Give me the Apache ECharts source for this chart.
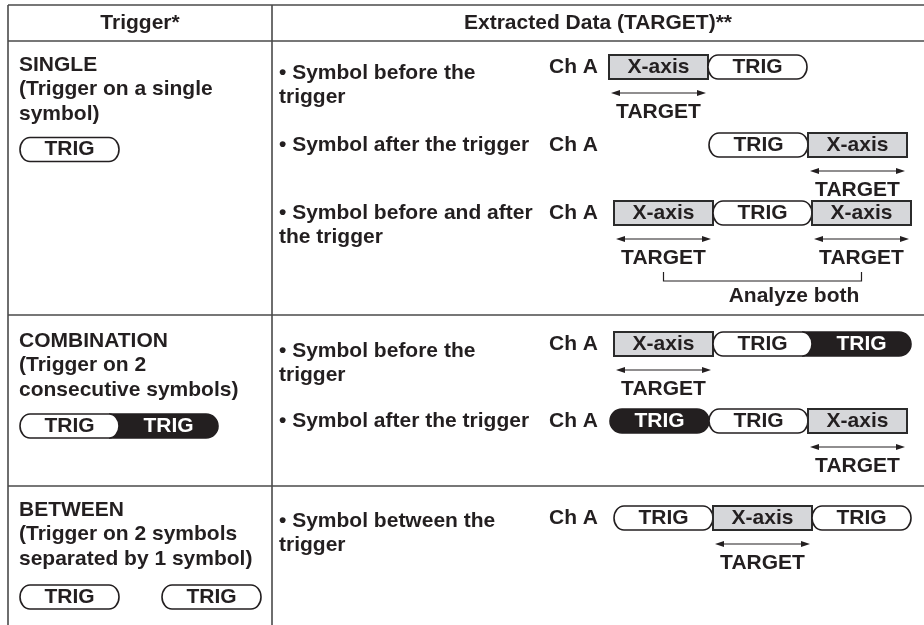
<!DOCTYPE html>
<html><head><meta charset="utf-8">
<script src="https://cdn.jsdelivr.net/npm/echarts@6/dist/echarts.min.js"></script>
<style>html,body{margin:0;padding:0;background:#fff}#c{width:924px;height:625px}</style>
</head><body><div id="c"></div>
<script>
// ---------------- data ----------------
const headers = ['Trigger*', 'Extracted Data (TARGET)**'];
const triggerNames = ['SINGLE', 'COMBINATION', 'BETWEEN'];
const triggerNotes = [
  ['(Trigger on a single', 'symbol)'],
  ['(Trigger on 2', 'consecutive symbols)'],
  ['(Trigger on 2 symbols', 'separated by 1 symbol)']
];
// T = trigger symbol, B = second (filled) trigger symbol, X = extracted symbol, '-' = empty
const triggerPatterns = [['T'], ['T', 'B'], ['T', '-', 'T']];
const caseTexts = [
  ['• Symbol before the', 'trigger'],
  ['• Symbol after the trigger'],
  ['• Symbol before and after', 'the trigger'],
  ['• Symbol before the', 'trigger'],
  ['• Symbol after the trigger'],
  ['• Symbol between the', 'trigger']
];
const caseSequences = [
  ['X', 'T'],
  ['-', 'T', 'X'],
  ['X', 'T', 'X'],
  ['X', 'T', 'B'],
  ['B', 'T', 'X'],
  ['T', 'X', 'T']
];
const caseTargets = [[0], [2], [0, 2], [0], [2], [1]];
const symbolText = { X: 'X-axis', T: 'TRIG', B: 'TRIG' };
const channelName = 'Ch A';
const targetName = 'TARGET';
const combinedNote = 'Analyze both';
const combinedCase = 2;

// ---------------- layout ----------------
const L = {
  W: 924, H: 625,
  left: 8, divider: 272, top: 5, headerBottom: 41, rowLines: [315, 486],
  headerY: 23, headerX: [140, 598],
  trigX: 19, trigTextY: [65, 341, 510], lineH: 24.6,
  trigSymY: [149.5, 426, 597], trigSymX: 20, trigSlotW: 99, gapW: 43,
  caseTextX: 279, caseTextY: [73, 145, 213, 351, 421, 521],
  caseY: [67, 145, 213, 344, 421, 518], caseX: [609, 610, 614, 614, 610, 614], slotW: 99,
  chX: 598, symH: 24, rx: 10,
  arrowDy: 26, targetDy: 45,
  bracketTop: 272, bracketBottom: 281, noteY: 296, noteX: 794
};
const INK = '#231f20';
const LINE = '#4a4a4a';
const BOXFILL = '#d6d7da';
const FONT = 'bold 21px "Liberation Sans", Arial, Helvetica, sans-serif';

// ---------------- build marks ----------------
const marks = [];
// table lines
marks.push({ k: 'line', x1: L.left, y1: L.top, x2: L.W, y2: L.top, w: 1.6, c: LINE });
marks.push({ k: 'line', x1: L.left, y1: L.headerBottom, x2: L.W, y2: L.headerBottom, w: 1.6, c: LINE });
L.rowLines.forEach(y => marks.push({ k: 'line', x1: L.left, y1: y, x2: L.W, y2: y, w: 1.6, c: LINE }));
marks.push({ k: 'line', x1: L.left, y1: L.top, x2: L.left, y2: L.H, w: 1.6, c: LINE });
marks.push({ k: 'line', x1: L.divider, y1: L.top, x2: L.divider, y2: L.H, w: 1.6, c: LINE });
// headers
headers.forEach((h, i) => marks.push({ k: 'text', x: L.headerX[i], y: L.headerY, t: h, align: 'center' }));

function addSequence(seq, x0, y, slotW, gapW) {
  let x = x0;
  const slots = [];
  seq.forEach((s, i) => {
    const w = (s === '-' && gapW) ? gapW : slotW;
    slots.push([x, x + w]);
    if (s === 'X') {
      marks.push({ k: 'rect', a: x, b: x + w, c: y });
    } else if (s === 'T' || s === 'B') {
      const prev = seq[i - 1];
      marks.push({ k: 'trig', a: x, b: x + w, c: y, filled: s === 'B', concave: s === 'B' && prev === 'T' });
    }
    if (s !== '-') marks.push({ k: 'text', x: x + w / 2, y: y, t: symbolText[s], align: 'center', color: s === 'B' ? '#ffffff' : INK });
    x += w;
  });
  return slots;
}

// left column
triggerNames.forEach((name, i) => {
  marks.push({ k: 'text', x: L.trigX, y: L.trigTextY[i], t: name, align: 'left' });
  triggerNotes[i].forEach((t, j) => marks.push({ k: 'text', x: L.trigX, y: L.trigTextY[i] + (j + 1) * L.lineH, t: t, align: 'left' }));
});
triggerPatterns.forEach((p, i) => addSequence(p, L.trigSymX, L.trigSymY[i], L.trigSlotW, L.gapW));

// right column
caseTexts.forEach((lines, i) => {
  lines.forEach((t, j) => marks.push({ k: 'text', x: L.caseTextX, y: L.caseTextY[i] + j * L.lineH, t: t, align: 'left' }));
  marks.push({ k: 'text', x: L.chX, y: L.caseY[i], t: channelName, align: 'right' });
  const slots = addSequence(caseSequences[i], L.caseX[i], L.caseY[i], L.slotW, 0);
  caseTargets[i].forEach(ti => {
    const s = slots[ti];
    marks.push({ k: 'arrow', x1: s[0] + 2, x2: s[1] - 2, y: L.caseY[i] + L.arrowDy });
    marks.push({ k: 'text', x: (s[0] + s[1]) / 2, y: L.caseY[i] + L.targetDy, t: targetName, align: 'center' });
  });
  if (i === combinedCase) {
    const c0 = (slots[caseTargets[i][0]][0] + slots[caseTargets[i][0]][1]) / 2;
    const c1 = (slots[caseTargets[i][1]][0] + slots[caseTargets[i][1]][1]) / 2;
    marks.push({ k: 'poly', pts: [[c0, L.bracketTop], [c0, L.bracketBottom], [c1, L.bracketBottom], [c1, L.bracketTop]] });
    marks.push({ k: 'text', x: L.noteX, y: L.noteY, t: combinedNote, align: 'center' });
  }
});

// draw order: filled shapes first, then lines/outlines, texts last
const rank = m => (m.k === 'trig' && m.filled) ? 0 : (m.k === 'text' ? 3 : (m.k === 'line' ? 1 : 2));
marks.sort((a, b) => rank(a) - rank(b));

// ---------------- chart ----------------
const chart = echarts.init(document.getElementById('c'), null, { renderer: 'canvas' });
const K = 0.5523;
function renderItem(params, api) {
  const m = marks[params.dataIndex];
  const p = (x, y) => api.coord([x, y]);
  if (m.k === 'line') {
    const a = p(m.x1, m.y1), b = p(m.x2, m.y2);
    return { type: 'line', shape: { x1: a[0], y1: a[1], x2: b[0], y2: b[1] }, style: { stroke: m.c, lineWidth: m.w } };
  }
  if (m.k === 'poly') {
    return { type: 'polyline', shape: { points: m.pts.map(q => p(q[0], q[1])) }, style: { stroke: INK, lineWidth: 1.2, fill: null } };
  }
  if (m.k === 'text') {
    const a = p(m.x, m.y);
    return { type: 'text', style: { x: a[0], y: a[1], text: m.t, fill: m.color || INK, font: FONT, align: m.align, verticalAlign: 'middle' } };
  }
  if (m.k === 'rect') {
    const a = p(m.a, m.c - L.symH / 2), b = p(m.b, m.c + L.symH / 2);
    return { type: 'rect', shape: { x: a[0], y: a[1], width: b[0] - a[0], height: b[1] - a[1] }, style: { fill: BOXFILL, stroke: '#2b2b2b', lineWidth: 2 } };
  }
  if (m.k === 'trig') {
    const tl = p(m.a, m.c - L.symH / 2), br = p(m.b, m.c + L.symH / 2);
    const a = tl[0], b = br[0], t = tl[1], bt = br[1], c = (t + bt) / 2, h = (bt - t) / 2;
    const rx = api.size([L.rx, 0])[0];
    const rr = m.filled ? rx * 1.2 : rx;
    let d;
    const right = `L${b - rr} ${t} C${b - rr + K * rr} ${t} ${b} ${c - K * h} ${b} ${c} C${b} ${c + K * h} ${b - rr + K * rr} ${bt} ${b - rr} ${bt}`;
    if (m.concave) {
      d = `M${a - rx} ${t} ${right} L${a - rx} ${bt} C${a - rx + K * rx} ${bt} ${a} ${c + K * h} ${a} ${c} C${a} ${c - K * h} ${a - rx + K * rx} ${t} ${a - rx} ${t} Z`;
    } else {
      d = `M${a + rr} ${t} ${right} L${a + rr} ${bt} C${a + rr - K * rr} ${bt} ${a} ${c + K * h} ${a} ${c} C${a} ${c - K * h} ${a + rr - K * rr} ${t} ${a + rr} ${t} Z`;
    }
    return { type: 'path', shape: { pathData: d }, style: { fill: m.filled ? INK : '#ffffff', stroke: INK, lineWidth: 1.6 } };
  }
  if (m.k === 'arrow') {
    const a = p(m.x1, m.y), b = p(m.x2, m.y);
    const hl = 9, hw = 3;
    return { type: 'group', children: [
      { type: 'line', shape: { x1: a[0] + 4, y1: a[1], x2: b[0] - 4, y2: b[1] }, style: { stroke: INK, lineWidth: 1.2 } },
      { type: 'polygon', shape: { points: [[a[0], a[1]], [a[0] + hl, a[1] - hw], [a[0] + hl, a[1] + hw]] }, style: { fill: INK } },
      { type: 'polygon', shape: { points: [[b[0], b[1]], [b[0] - hl, b[1] - hw], [b[0] - hl, b[1] + hw]] }, style: { fill: INK } }
    ] };
  }
  return null;
}

chart.setOption({
  animation: false,
  backgroundColor: '#ffffff',
  grid: { left: 0, top: 0, width: L.W, height: L.H, containLabel: false },
  xAxis: { type: 'value', min: 0, max: L.W, show: false },
  yAxis: { type: 'value', min: 0, max: L.H, inverse: true, show: false },
  tooltip: { show: false },
  series: [{
    type: 'custom',
    coordinateSystem: 'cartesian2d',
    renderItem: renderItem,
    data: marks.map((m, i) => [i, i]),
    encode: { x: 0, y: 1 },
    clip: false,
    silent: true
  }]
});
</script></body></html>
